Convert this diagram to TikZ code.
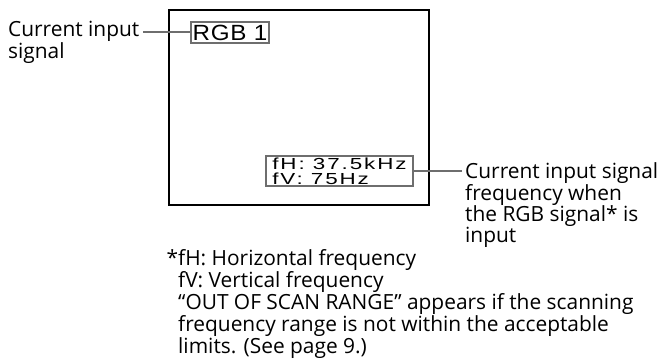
\documentclass[tikz,border=0pt]{standalone}
\usepackage{fontspec}
\setmainfont{Open Sans}
\newfontfamily\osdfont[FakeStretch=1.1,LetterSpace=3]{Liberation Sans}
\newfontfamily\freqfont[FakeStretch=1.4,LetterSpace=12]{Liberation Sans}
\usepackage{tikz}
\usetikzlibrary{
    positioning,
    calc
}
\definecolor{leadgray}{rgb}{0.43, 0.43, 0.43}
\tikzstyle{screen} = [
    draw=black,
    line width=2pt
]
\tikzstyle{osdbox} = [
    draw=leadgray,
    line width=2pt,
    fill=white,
    inner sep=0pt,
    anchor=north west
]
\tikzstyle{leader} = [
    line width=2pt,
    draw=leadgray
]
\tikzstyle{label} = [
    inner sep=0pt,
    align=left,
    font=\fontsize{20.9}{20.5}\selectfont
]

\begin{document}
\begin{tikzpicture}[x=1pt, y=-1pt]
        \useasboundingbox (0,0) rectangle (661,359);
        % Screen
        \draw[screen] (169,10) rectangle (429,205);

        % On-screen boxes
        \node[osdbox, minimum width=78pt, minimum height=21pt,
              font=\osdfont\fontsize{22}{22}\selectfont] (rgb) at (190,21) {RGB 1};
        \node[osdbox, minimum width=147pt, minimum height=30pt, align=left,
              font=\freqfont\fontsize{16}{15}\selectfont] (freq) at (265,155) {fH: 37.5kHz\\fV: 75Hz};

        % Labels
        \node[label, anchor=north west] (inlabel) at (8,21) {Current input\\signal};
        \node[label, anchor=north west] (freqlabel) at (465,162) {Current input signal\\frequency when\\the RGB signal* is\\input};
        \node[label, anchor=north west] (notes) at (178,249)
            {\llap{*}fH: Horizontal frequency\\fV: Vertical frequency\\“OUT OF SCAN RANGE” appears if the scanning\\frequency range is not within the acceptable\\limits. (See page 9.)};

        % Leader lines
        \coordinate (inend) at (143,32);
        \coordinate (freqend) at (462,171);
        \draw[leader] (inend) -- (rgb.west |- inend);
        \draw[leader] (freq.east |- freqend) -- (freqend);
    \end{tikzpicture}
\end{document}
